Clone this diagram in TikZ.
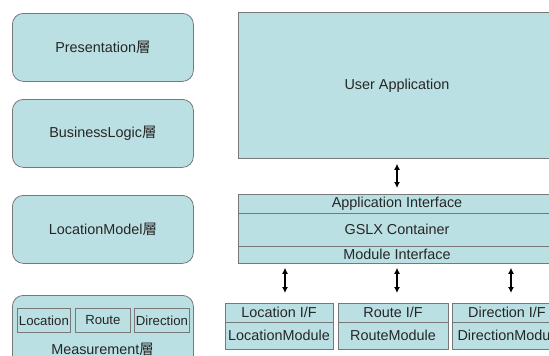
\documentclass[tikz,border=0pt]{standalone}
\usepackage{fontspec}
\setmainfont{Liberation Sans}
\newfontfamily\cjk{Noto Sans CJK JP}
\usetikzlibrary{arrows.meta}
\definecolor{boxfill}{RGB}{187,224,227}
\definecolor{boxline}{RGB}{120,120,120}
\tikzset{
  base/.style={draw=boxline, fill=boxfill, line width=0.8pt, inner sep=0pt,
    text=black!85, font=\fontsize{14.4}{16}\selectfont, anchor=north west},
  layer/.style={base, rounded corners=11pt, minimum width=181pt},
  inner/.style={base, minimum height=24pt, font=\fontsize{13.2}{15}\selectfont},
  plain/.style={base},
  lbl/.style={anchor=center, font=\fontsize{14.4}{16}\selectfont, text=black!85},
  link/.style={line width=1.8pt, {Latex[length=6pt,width=6pt]}-{Latex[length=6pt,width=6pt]}}
}
\newcommand{\so}{{\cjk 層}}
\begin{document}
\begin{tikzpicture}[x=1pt,y=-1pt]
\useasboundingbox (0,0) rectangle (549,356);
\clip (0,0) rectangle (549,356);

% layer stack on the left
\node[layer, minimum height=68pt] (pres) at (12,13) {Presentation\so};
\node[layer, minimum height=68pt] (biz) at (12,99) {BusinessLogic\so};
\node[layer, minimum height=68pt] (locm) at (12,195) {LocationModel\so};
\node[layer, minimum height=80pt] (meas) at (12,295) {};
\node[lbl] (meast) at (102.5,349) {Measurement\so};
\node[inner, minimum width=53pt] (mloc) at (17,308) {Location};
\node[inner, minimum width=55pt] (mroute) at (75,308) {Route};
\node[inner, minimum width=55pt] (mdir) at (134,308) {Direction};

% user application
\node[plain, minimum width=330pt, minimum height=146pt] (ua) at (238,12) {};
\node[lbl] (uat) at (397,86) {User Application};

% container with its two interfaces
\node[plain, minimum width=330pt, minimum height=19pt] (ai) at (238,194) {};
\node[plain, minimum width=330pt, minimum height=33pt] (gc) at (238,213) {};
\node[plain, minimum width=330pt, minimum height=17pt] (mi) at (238,246) {};
\node[lbl] (ait) at (397,203.5) {Application Interface};
\node[lbl] (gct) at (397,229.5) {GSLX Container};
\node[lbl] (mit) at (397,254.5) {Module Interface};

% modules
\node[plain, minimum width=108pt, minimum height=19pt] (lif) at (225,303) {};
\node[plain, minimum width=108pt, minimum height=27pt] (lmod) at (225,322) {};
\node[plain, minimum width=110pt, minimum height=19pt] (rif) at (338,303) {};
\node[plain, minimum width=110pt, minimum height=27pt] (rmod) at (338,322) {};
\node[plain, minimum width=120pt, minimum height=19pt] (dif) at (452,303) {};
\node[plain, minimum width=120pt, minimum height=27pt] (dmod) at (452,322) {};
\node[lbl] (lift) at (279,312.5) {Location I/F};
\node[lbl] (lmodt) at (279,335.5) {LocationModule};
\node[lbl] (rift) at (393,312.5) {Route I/F};
\node[lbl] (rmodt) at (393,335.5) {RouteModule};
\node[lbl] (dift) at (507,312.5) {Direction I/F};
\node[lbl, anchor=west] (dmodt) at (454,335.5) {DirectionModule};

% connectors
\coordinate (c1) at (285,0);
\coordinate (c2) at (397,0);
\coordinate (c3) at (511,0);
\draw[link, shorten <=5pt, shorten >=6pt] (ua.south -| c2) -- (ai.north -| c2);
\draw[link, shorten <=4pt, shorten >=10pt] (mi.south -| c1) -- (lif.north -| c1);
\draw[link, shorten <=4pt, shorten >=10pt] (mi.south -| c2) -- (rif.north -| c2);
\draw[link, shorten <=4pt, shorten >=10pt] (mi.south -| c3) -- (dif.north -| c3);
\end{tikzpicture}
\end{document}
